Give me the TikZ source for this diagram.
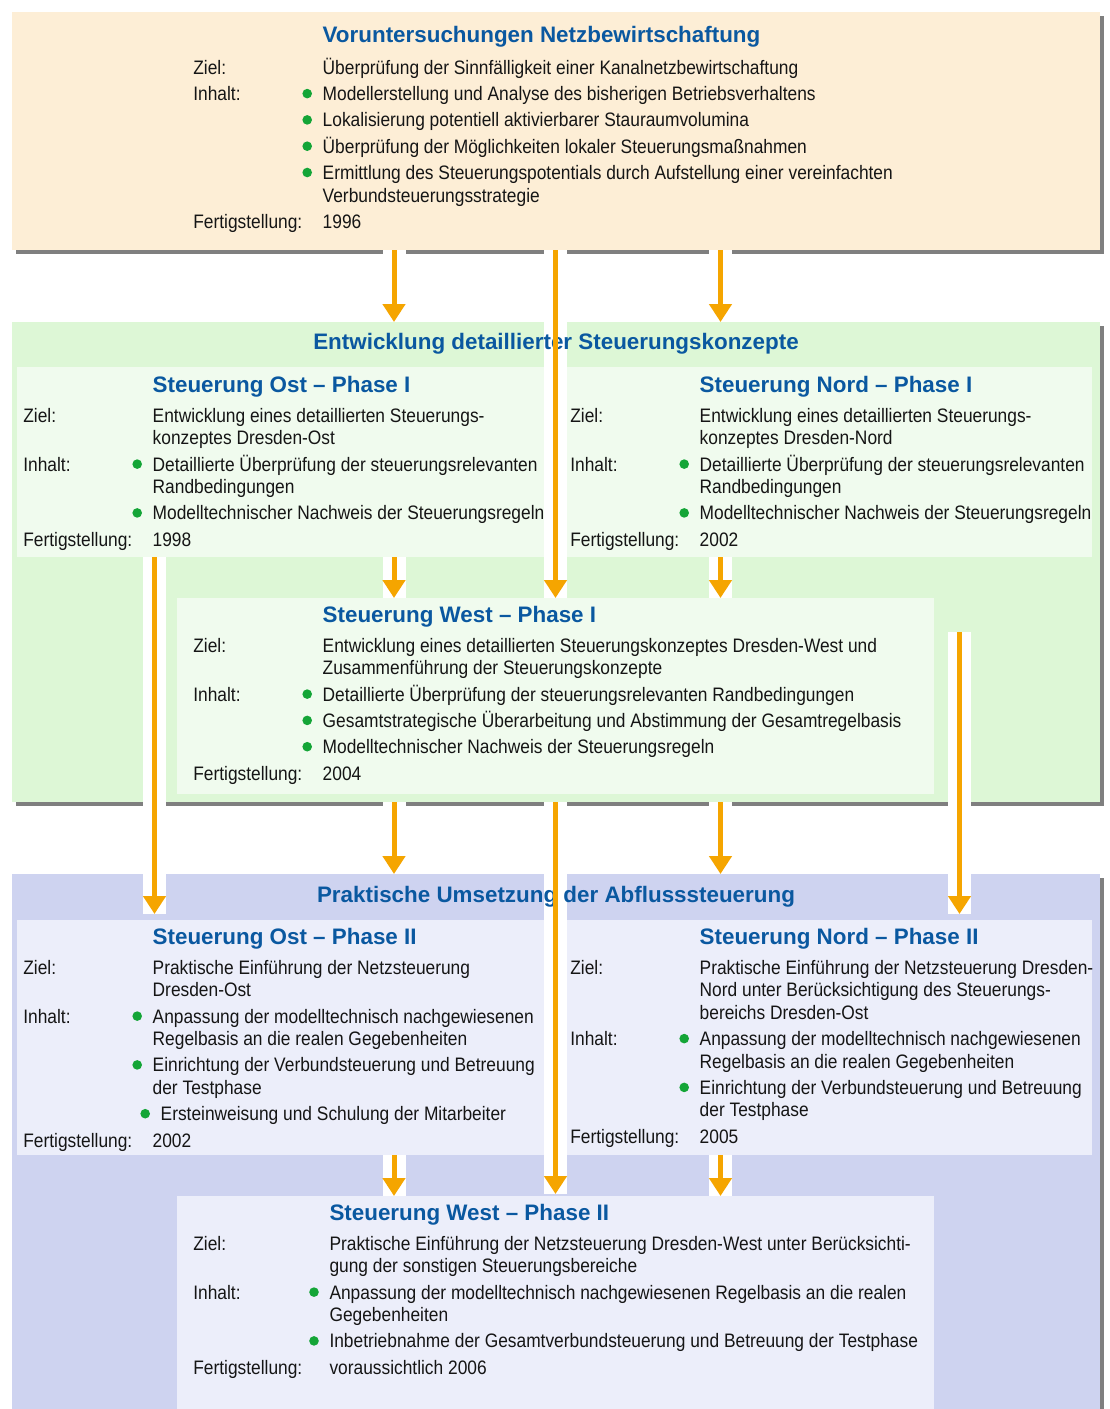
\documentclass[tikz,border=0pt]{standalone}
\usepackage{fontspec}
\setmainfont{Liberation Sans}[FakeStretch=0.89]
\newfontfamily\ttlfont{Liberation Sans}
\usetikzlibrary{arrows.meta,shadows,calc}
\definecolor{peach}{HTML}{FDEED6}
\definecolor{greenbig}{HTML}{DDF7D6}
\definecolor{greensub}{HTML}{F0FBEE}
\definecolor{bluebig}{HTML}{CED3F0}
\definecolor{bluesub}{HTML}{ECEEFA}
\definecolor{shadowgray}{HTML}{7F7F7F}
\definecolor{arrorange}{HTML}{F5A500}
\definecolor{titleblue}{HTML}{0A58A0}
\definecolor{bulletgreen}{HTML}{14A537}
\definecolor{txtcol}{HTML}{151515}
\newcounter{tn}
\newcommand\tl[3]{\stepcounter{tn}\node[txt] (t\arabic{tn}) at (#1,#2) {#3};}
\newcommand\bl[3]{\stepcounter{tn}\fill[bulletgreen] (#1-15.5,#2-7) circle (4.8pt);\node[txt] (t\arabic{tn}) at (#1,#2) {#3};}
\newcommand\bandA[2]{\fill[white] ($(#1)+(-11.5,0)$) rectangle ($(#2)+(11.5,0)$);}
\newcommand\drawA[2]{\draw[arr] (#1) -- (#2);}
\newcommand\arrowlist{%
 \A{top.south -| colB}{green.north -| colB}
 \A{top.south -| colC}{westI.north -| colC}
 \A{top.south -| colD}{green.north -| colD}
 \A{ostI.south -| colA}{e4}
 \A{ostI.south -| colB}{westI.north -| colB}
 \A{nordI.south -| colD}{westI.north -| colD}
 \A{s7}{e7}
 \A{green.south -| colB}{blue.north -| colB}
 \A{green.south -| colC}{e9}
 \A{green.south -| colD}{blue.north -| colD}
 \A{ostII.south -| colB}{westII.north -| colB}
 \A{nordII.south -| colD}{westII.north -| colD}
}
\begin{document}
\begin{tikzpicture}[x=1pt,y=-1pt,
 bx/.style={inner sep=0pt, outer sep=0pt, anchor=north west, draw=none},
 bigshadow/.style={drop shadow={shadow xshift=4pt, shadow yshift=-4pt, fill=shadowgray, opacity=1}},
 txt/.style={anchor=base west, inner sep=0pt, outer sep=0pt, font=\fontsize{19.5}{22}\selectfont, text=txtcol},
 ttl/.style={anchor=base west, inner sep=0pt, outer sep=0pt, font=\ttlfont\bfseries\fontsize{22.4}{26}\selectfont, text=titleblue},
 bigttl/.style={ttl, anchor=base},
 arr/.style={draw=arrorange, line width=5pt, -{Triangle[width=22pt,length=18pt]}}]
\useasboundingbox (0,0) rectangle (1109,1409);
\clip (0,0) rectangle (1109,1409);
\fill[white] (0,0) rectangle (1109,1409);
% big boxes
\node[bx, bigshadow, fill=peach, minimum width=1088pt, minimum height=238pt] (top) at (12,12) {};
\node[bx, bigshadow, fill=greenbig, minimum width=1088pt, minimum height=480pt] (green) at (12,322) {};
\node[bx, bigshadow, fill=bluebig, minimum width=1088pt, minimum height=560pt] (blue) at (12,874) {};
% sub boxes
\node[bx, fill=greensub, minimum width=527pt, minimum height=190pt] (ostI) at (17,367) {};
\node[bx, fill=greensub, minimum width=526pt, minimum height=190pt] (nordI) at (566,367) {};
\node[bx, fill=greensub, minimum width=757pt, minimum height=196pt] (westI) at (177,598) {};
\node[bx, fill=bluesub, minimum width=527pt, minimum height=235pt] (ostII) at (17,920) {};
\node[bx, fill=bluesub, minimum width=526pt, minimum height=235pt] (nordII) at (566,920) {};
\node[bx, fill=bluesub, minimum width=757pt, minimum height=230pt] (westII) at (177,1196) {};
% columns and free ends
\coordinate (colA) at (154.5,0);
\coordinate (colB) at (394,0);
\coordinate (colC) at (555.5,0);
\coordinate (colD) at (720.5,0);
\coordinate (colE) at (959.5,0);
\coordinate (e4) at ($(ostII.north -| colA)+(0,-6)$);
\coordinate (s7) at (959.5,632);
\coordinate (e7) at ($(nordII.north -| colE)+(0,-6)$);
\coordinate (e9) at ($(westII.north -| colC)+(0,-2)$);
% white bands
\let\A\bandA
\arrowlist
% ---- texts: top box
\node[ttl] (ttop) at (322.7,42) {Voruntersuchungen Netzbewirtschaftung};
\tl{193.3}{74.3}{Ziel:}
\tl{322.7}{74.3}{Überprüfung der Sinnfälligkeit einer Kanalnetzbewirtschaftung}
\tl{193.3}{100.6}{Inhalt:}
\bl{322.7}{100.6}{Modellerstellung und Analyse des bisherigen Betriebsverhaltens}
\bl{322.7}{126.9}{Lokalisierung potentiell aktivierbarer Stauraumvolumina}
\bl{322.7}{153.2}{Überprüfung der Möglichkeiten lokaler Steuerungsmaßnahmen}
\bl{322.7}{179.5}{Ermittlung des Steuerungspotentials durch Aufstellung einer vereinfachten}
\tl{322.7}{202}{Verbundsteuerungsstrategie}
\tl{193.3}{228.3}{Fertigstellung:}
\tl{322.7}{228.3}{1996}
% ---- green
\node[bigttl] (tgreen) at (556,349.3) {Entwicklung detaillierter Steuerungskonzepte};
% Ost I
\node[ttl] (tostI) at (152.7,392.3) {Steuerung Ost – Phase I};
\tl{23.3}{422.3}{Ziel:}
\tl{152.7}{422.3}{Entwicklung eines detaillierten Steuerungs-}
\tl{152.7}{444.8}{konzeptes Dresden-Ost}
\tl{23.3}{471.1}{Inhalt:}
\bl{152.7}{471.1}{Detaillierte Überprüfung der steuerungsrelevanten}
\tl{152.7}{493.6}{Randbedingungen}
\bl{152.7}{519.9}{Modelltechnischer Nachweis der Steuerungsregeln}
\tl{23.3}{546.2}{Fertigstellung:}
\tl{152.7}{546.2}{1998}
% Nord I
\node[ttl] (tnordI) at (699.7,392.3) {Steuerung Nord – Phase I};
\tl{570.3}{422.3}{Ziel:}
\tl{699.7}{422.3}{Entwicklung eines detaillierten Steuerungs-}
\tl{699.7}{444.8}{konzeptes Dresden-Nord}
\tl{570.3}{471.1}{Inhalt:}
\bl{699.7}{471.1}{Detaillierte Überprüfung der steuerungsrelevanten}
\tl{699.7}{493.6}{Randbedingungen}
\bl{699.7}{519.9}{Modelltechnischer Nachweis der Steuerungsregeln}
\tl{570.3}{546.2}{Fertigstellung:}
\tl{699.7}{546.2}{2002}
% West I
\node[ttl] (twestI) at (322.7,622.3) {Steuerung West – Phase I};
\tl{193.3}{652.3}{Ziel:}
\tl{322.7}{652.3}{Entwicklung eines detaillierten Steuerungskonzeptes Dresden-West und}
\tl{322.7}{674.8}{Zusammenführung der Steuerungskonzepte}
\tl{193.3}{701.1}{Inhalt:}
\bl{322.7}{701.1}{Detaillierte Überprüfung der steuerungsrelevanten Randbedingungen}
\bl{322.7}{727.4}{Gesamtstrategische Überarbeitung und Abstimmung der Gesamtregelbasis}
\bl{322.7}{753.7}{Modelltechnischer Nachweis der Steuerungsregeln}
\tl{193.3}{780}{Fertigstellung:}
\tl{322.7}{780}{2004}
% ---- blue
\node[bigttl] (tblue) at (556,902.3) {Praktische Umsetzung der Abflusssteuerung};
% Ost II
\node[ttl] (tostII) at (152.7,944.3) {Steuerung Ost – Phase II};
\tl{23.3}{974.3}{Ziel:}
\tl{152.7}{974.3}{Praktische Einführung der Netzsteuerung}
\tl{152.7}{996.8}{Dresden-Ost}
\tl{23.3}{1023.1}{Inhalt:}
\bl{152.7}{1023.1}{Anpassung der modelltechnisch nachgewiesenen}
\tl{152.7}{1045.6}{Regelbasis an die realen Gegebenheiten}
\bl{152.7}{1071.9}{Einrichtung der Verbundsteuerung und Betreuung}
\tl{152.7}{1094.4}{der Testphase}
\bl{160.7}{1120.7}{Ersteinweisung und Schulung der Mitarbeiter}
\tl{23.3}{1147}{Fertigstellung:}
\tl{152.7}{1147}{2002}
% Nord II
\node[ttl] (tnordII) at (699.7,944.3) {Steuerung Nord – Phase II};
\tl{570.3}{974.3}{Ziel:}
\tl{699.7}{974.3}{Praktische Einführung der Netzsteuerung Dresden-}
\tl{699.7}{996.8}{Nord unter Berücksichtigung des Steuerungs-}
\tl{699.7}{1019.3}{bereichs Dresden-Ost}
\tl{570.3}{1045.6}{Inhalt:}
\bl{699.7}{1045.6}{Anpassung der modelltechnisch nachgewiesenen}
\tl{699.7}{1068.1}{Regelbasis an die realen Gegebenheiten}
\bl{699.7}{1094.4}{Einrichtung der Verbundsteuerung und Betreuung}
\tl{699.7}{1116.9}{der Testphase}
\tl{570.3}{1143.2}{Fertigstellung:}
\tl{699.7}{1143.2}{2005}
% West II
\node[ttl] (twestII) at (329.5,1220.3) {Steuerung West – Phase II};
\tl{193.3}{1250.3}{Ziel:}
\tl{329.5}{1250.3}{Praktische Einführung der Netzsteuerung Dresden-West unter Berücksichti-}
\tl{329.5}{1272.8}{gung der sonstigen Steuerungsbereiche}
\tl{193.3}{1299.1}{Inhalt:}
\bl{329.5}{1299.1}{Anpassung der modelltechnisch nachgewiesenen Regelbasis an die realen}
\tl{329.5}{1321.6}{Gegebenheiten}
\bl{329.5}{1347.9}{Inbetriebnahme der Gesamtverbundsteuerung und Betreuung der Testphase}
\tl{193.3}{1374.2}{Fertigstellung:}
\tl{329.5}{1374.2}{voraussichtlich 2006}
% arrows
\let\A\drawA
\arrowlist
\end{tikzpicture}
\end{document}
